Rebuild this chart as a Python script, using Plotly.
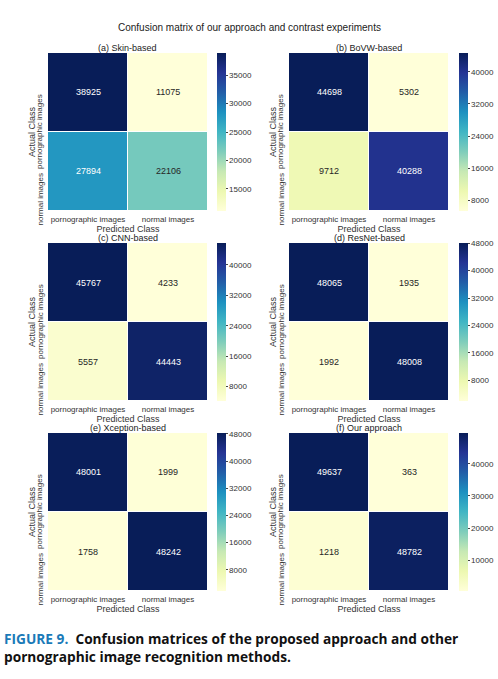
import plotly.graph_objects as go

# ---------------- data ----------------
pred_labels = ["pornographic images", "normal images"]
actual_labels = ["pornographic images", "normal images"]

titles = ["(a) Skin-based", "(b) BoVW-based", "(c) CNN-based",
          "(d) ResNet-based", "(e) Xception-based", "(f) Our approach"]

skin = [[38925, 11075], [27894, 22106]]
bovw = [[44698, 5302], [9712, 40288]]
cnn = [[45767, 4233], [5557, 44443]]
resnet = [[48065, 1935], [1992, 48008]]
xception = [[48001, 1999], [1758, 48242]]
ours = [[49637, 363], [1218, 48782]]

matrices = [skin, bovw, cnn, resnet, xception, ours]
cbar_dticks = [5000, 8000, 8000, 8000, 8000, 10000]

main_title = "Confusion matrix of our approach and contrast experiments"
caption_head = "FIGURE 9."
caption_l1 = "Confusion matrices of the proposed approach and other"
caption_l2 = "pornographic image recognition methods."

# ---------------- layout geometry (pixels) ----------------
W, H = 498, 679
col_x = [(48, 208), (289, 449)]
row_y = [(53, 211), (243, 401), (433, 591)]
cbar_x = [217, 459]

def px(x):
    return x / W

def py(y):
    return 1 - y / H

FONT = "Liberation Sans, Arial, sans-serif"

fig = go.Figure()
annotations = []
nx, ny = len(pred_labels), len(actual_labels)

for i, (z, title, dt) in enumerate(zip(matrices, titles, cbar_dticks)):
    r, c = divmod(i, 2)
    x0, x1 = col_x[c]
    y0, y1 = row_y[r]
    n = i + 1
    xa = "x" if n == 1 else f"x{n}"
    ya = "y" if n == 1 else f"y{n}"
    flat = [v for row in z for v in row]
    zmin, zmax = min(flat), max(flat)
    fig.add_trace(go.Heatmap(
        z=z, x=pred_labels, y=actual_labels,
        xaxis=xa, yaxis=ya,
        colorscale="YlGnBu", zmin=zmin, zmax=zmax,
        xgap=1, ygap=1, hoverinfo="skip",
        colorbar=dict(
            x=px(cbar_x[c]), xanchor="left", xref="paper",
            y=py((y0 + y1) / 2), yanchor="middle",
            len=y1 - y0, lenmode="pixels",
            thickness=9, thicknessmode="pixels",
            outlinewidth=0, xpad=0, ypad=0,
            tick0=0, dtick=dt, tickformat="d",
            ticks="outside", ticklen=2,
            tickcolor="#444", tickwidth=0.6,
            tickfont=dict(family=FONT, size=8, color="#333"),
        ),
    ))
    axkey_x = "xaxis" if n == 1 else f"xaxis{n}"
    axkey_y = "yaxis" if n == 1 else f"yaxis{n}"
    fig.update_layout({
        axkey_x: dict(
            domain=[px(x0), px(x1)], anchor=ya,
            range=[-0.5, nx - 0.5], autorange=False,
            tickfont=dict(family=FONT, size=8, color="#333"),
            ticks="", showgrid=False, zeroline=False,
            title=dict(text="Predicted Class", standoff=1,
                       font=dict(family=FONT, size=9, color="#333")),
            ticklabelstandoff=2,
        ),
        axkey_y: dict(
            domain=[py(y1), py(y0)], anchor=xa,
            range=[ny - 0.5, -0.5], autorange=False,
            showticklabels=False,
            ticks="", showgrid=False, zeroline=False,
            title=dict(text="Actual Class", standoff=9,
                       font=dict(family=FONT, size=9, color="#333")),
        ),
    })
    # y tick labels (matplotlib style: rotated, text end at the tick)
    for lab in actual_labels:
        annotations.append(dict(
            text=lab, xref="paper", yref=ya, x=px(x0 - 8), y=lab,
            xanchor="center", yanchor="top", textangle=-90,
            showarrow=False, font=dict(family=FONT, size=8, color="#333"),
        ))
    # subplot title
    annotations.append(dict(
        text=title, xref="paper", yref="paper",
        x=px((x0 + x1) / 2), y=py(y0 - 5), xanchor="center", yanchor="middle",
        showarrow=False, font=dict(family=FONT, size=9, color="#222"),
    ))
    # cell values
    for ri, row in enumerate(z):
        for ci, v in enumerate(row):
            frac = (v - zmin) / (zmax - zmin)
            annotations.append(dict(
                text=str(v), xref=xa, yref=ya,
                x=pred_labels[ci], y=actual_labels[ri],
                showarrow=False,
                font=dict(family=FONT, size=9,
                          color="#ffffff" if frac > 0.45 else "#262626"),
            ))

annotations.append(dict(
    text=main_title, xref="paper", yref="paper",
    x=0.5, y=py(28), xanchor="center", yanchor="middle",
    showarrow=False, font=dict(family=FONT, size=10, color="#222"),
))
annotations.append(dict(
    text=(f"<b><span style='color:#1a7ab8'>{caption_head}</span>&nbsp;&nbsp;{caption_l1}</b>"
          f"<br><b>{caption_l2}</b>"),
    xref="paper", yref="paper", x=px(2), y=py(627), xanchor="left", yanchor="top",
    align="left", showarrow=False,
    font=dict(family="Open Sans, sans-serif", size=13.7, color="#111"),
))

fig.update_layout(
    width=W, height=H,
    margin=dict(l=0, r=0, t=0, b=0),
    paper_bgcolor="white", plot_bgcolor="white",
    annotations=annotations,
    showlegend=False,
)

fig.write_html("out.html", config={"displayModeBar": False},
               post_script="document.body.style.margin='0';document.body.style.padding='0';")
